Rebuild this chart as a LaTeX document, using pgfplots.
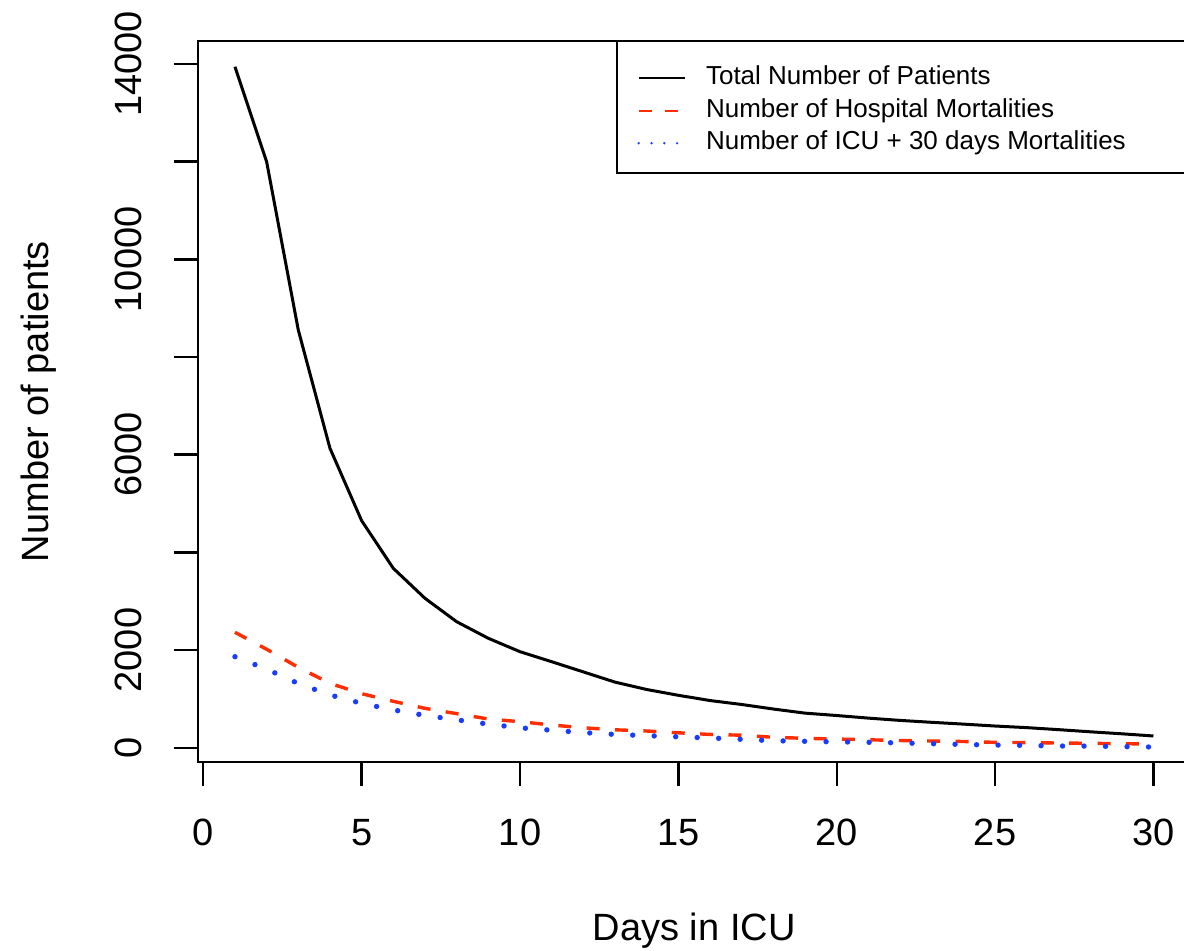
\documentclass[border=0pt]{standalone}
\usepackage{pgfplots}
\pgfplotsset{compat=1.18}
\usepackage{fontspec}
\setmainfont{Liberation Sans}
\definecolor{rred}{RGB}{255,45,0}
\definecolor{rblue}{RGB}{25,60,255}
\pgfplotstableread{
day total hosp icu
1 13943 2363 1863
2 11998 2016 1609
3 8552 1646 1314
4 6130 1318 1081
5 4648 1106 907
6 3673 950 774
7 3059 806 661
8 2580 697 571
9 2240 588 483
10 1966 533 407
11 1761 465 358
12 1552 408 309
13 1343 367 272
14 1192 342 246
15 1073 305 223
16 966 272 199
17 885 256 172
18 792 213 143
19 708 192 131
20 659 178 119
21 606 162 111
22 559 147 98
23 520 137 82
24 483 127 66
25 444 110 55
26 411 104 47
27 370 96 35
28 326 90 33
29 285 82 23
30 240 76 14
}\datatable
\begin{document}
\begin{tikzpicture}
\begin{axis}[
  at={(99pt,-381pt)}, anchor=south west,
  scale only axis, width=496.2pt, height=360.5pt,
  xmin=-0.167, xmax=31.167, ymin=-293, ymax=14470,
  axis line style={line width=1.2pt},
  every tick/.style={black, line width=1.2pt},
  tick align=outside, major tick length=12pt,
  tick pos=left,
  scaled y ticks=false,
  xtick={0,5,...,30}, xticklabels={0,5,10,15,20,25,30},
  ytick={0,2000,...,14000}, yticklabels={0,2000,,6000,,10000,,14000},
  tick label style={font=\fontsize{19}{22}\selectfont},
  xticklabel style={anchor=base, inner sep=0pt, text depth=0pt, yshift=-29.65pt},
  yticklabel style={rotate=90, anchor=base, inner sep=0pt, text depth=0pt, yshift=16.4pt},
  xlabel={Days in ICU}, ylabel={Number of patients},
  label style={font=\fontsize{19}{22}\selectfont},
  xlabel style={at={(axis description cs:0.5,0)}, anchor=base, inner sep=0pt, yshift=-89pt},
  ylabel style={at={([xshift=-74.5pt]axis description cs:0,0.5)}, anchor=base, inner sep=0pt},
  legend style={draw=none, fill=none, inner sep=0pt, at={(0.4424,0.967)}, anchor=north west,
    font=\fontsize{13}{15}\selectfont, row sep=3.25pt,
    nodes={inner sep=0pt, text height=9.75pt, text depth=3.25pt},
    /tikz/every odd column/.append style={column sep=10pt}},
  legend cell align=left,
  legend image code/.code={\draw[#1] (0pt,0pt) -- (23pt,0pt);},
]
\addlegendimage{black, line width=1.1pt}
\addlegendimage{rred, line width=1.1pt, dash pattern=on 6.5pt off 6.5pt}
\addlegendimage{rblue, line width=1.3pt, line cap=round, dash pattern=on 0pt off 6.4pt}
\addplot[black, line width=1.5pt, forget plot] table[x=day, y=total] {\datatable};
\addplot[rred, line width=1.7pt, dash pattern=on 6.5pt off 7.7pt, forget plot] table[x=day, y=hosp] {\datatable};
\addplot[rblue, line width=2.7pt, line cap=round, dash pattern=on 0pt off 10.75pt, forget plot] table[x=day, y=icu] {\datatable};
\legend{Total Number of Patients, Number of Hospital Mortalities, Number of ICU + 30 days Mortalities}
\end{axis}
\draw[line width=1.2pt] (308.5pt,-20.5pt) rectangle (595.2pt,-86.35pt);
\pgfresetboundingbox
\useasboundingbox (0pt,0pt) rectangle (592pt,-475pt);
\end{tikzpicture}
\end{document}
